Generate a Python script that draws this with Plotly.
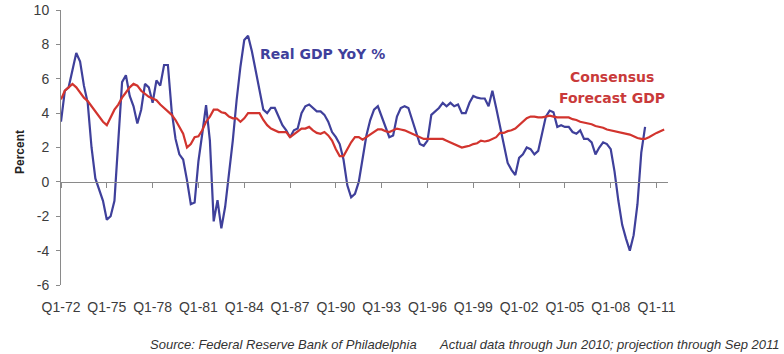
import plotly.graph_objects as go

# ---- data (quarterly, Q1-72 = index 0) ----
real_gdp_yoy = [
    3.5, 5.3, 5.5, 6.6, 7.5, 7.0, 5.6, 4.6, 2.0, 0.2,
    -0.5, -1.1, -2.2, -2.0, -1.1, 2.3, 5.8, 6.2, 5.0, 4.4,
    3.4, 4.2, 5.7, 5.5, 4.6, 5.9, 5.6, 6.8, 6.8, 4.1,
    2.5, 1.6, 1.3, 0.1, -1.3, -1.2, 1.2, 2.8, 4.46, 2.4,
    -2.3, -1.07, -2.7, -1.45, 0.3, 2.4, 4.75, 6.7, 8.25, 8.5,
    7.6, 6.4, 5.2, 4.2, 4.0, 4.3, 4.3, 3.8, 3.3, 3.0,
    2.6, 3.0, 3.1, 4.0, 4.4, 4.5, 4.3, 4.1, 4.1, 3.9,
    3.5, 2.9, 2.6, 2.2, 1.3, -0.2, -0.9, -0.7, 0.0, 1.3,
    2.7, 3.6, 4.2, 4.4, 3.8, 3.3, 2.6, 2.7, 3.8, 4.3,
    4.4, 4.3, 3.6, 2.8, 2.2, 2.1, 2.4, 3.9, 4.1, 4.3,
    4.6, 4.4, 4.6, 4.4, 4.5, 4.0, 4.0, 4.6, 5.0, 4.9,
    4.85, 4.85, 4.4, 5.3, 4.3, 3.2, 2.0, 1.1, 0.7, 0.4,
    1.4, 1.6, 2.0, 1.9, 1.6, 1.8, 2.8, 3.8, 4.15, 4.05,
    3.2, 3.3, 3.2, 3.2, 2.9, 2.8, 3.0, 2.5, 2.5, 2.3,
    1.6, 2.0, 2.3, 2.2, 1.9, 0.6, -1.1, -2.5, -3.3, -4.0,
    -3.1, -1.3, 1.7, 3.2,
]
consensus_forecast = [
    4.8, 5.3, 5.5, 5.7, 5.5, 5.2, 4.9, 4.7, 4.4, 4.1,
    3.8, 3.5, 3.3, 3.8, 4.2, 4.5, 4.9, 5.2, 5.5, 5.7,
    5.6, 5.3, 5.1, 4.95, 4.85, 4.75, 4.5, 4.3, 4.1, 3.9,
    3.6, 3.2, 2.8, 2.0, 2.2, 2.6, 2.65, 3.0, 3.5, 3.8,
    4.2, 4.2, 4.05, 4.0, 3.8, 3.7, 3.7, 3.5, 3.7, 4.0,
    4.0, 4.0, 4.0, 3.6, 3.3, 3.1, 3.0, 2.9, 2.9, 2.9,
    2.6, 2.75, 2.9, 3.1, 3.1, 3.2, 3.0, 2.85, 2.8, 2.9,
    2.7, 2.4, 1.9, 1.5, 1.5, 1.9, 2.3, 2.6, 2.6, 2.45,
    2.6, 2.8, 2.9, 3.05, 3.05, 2.95, 2.9, 3.0, 3.1, 3.05,
    3.0, 2.9, 2.8, 2.7, 2.6, 2.5, 2.5, 2.5, 2.5, 2.5,
    2.5, 2.4, 2.3, 2.2, 2.1, 2.0, 2.05, 2.1, 2.2, 2.25,
    2.4, 2.35, 2.4, 2.5, 2.6, 2.85, 2.85, 2.95, 3.0, 3.1,
    3.3, 3.5, 3.7, 3.8, 3.8, 3.75, 3.75, 3.8, 3.85, 3.8,
    3.75, 3.75, 3.75, 3.75, 3.65, 3.6, 3.5, 3.45, 3.4, 3.35,
    3.25, 3.2, 3.15, 3.05, 3.0, 2.95, 2.9, 2.85, 2.8, 2.75,
    2.65, 2.55, 2.5, 2.5, 2.6, 2.75, 2.85, 2.95, 3.05,
]
tick_labels = ["Q1-72", "Q1-75", "Q1-78", "Q1-81", "Q1-84", "Q1-87", "Q1-90",
               "Q1-93", "Q1-96", "Q1-99", "Q1-02", "Q1-05", "Q1-08", "Q1-11"]
tick_step = 12
y_ticks = [10, 8, 6, 4, 2, 0, -2, -4, -6]
y_tick_text = ["10", "8", "6", "4", "2", "0", "-2", "-4", "-6"]

x_real = list(range(len(real_gdp_yoy)))
x_cons = list(range(len(consensus_forecast)))
tick_vals = [i * tick_step for i in range(len(tick_labels))]
x_range = [0, 159]
y_range = [-6, 10]

W, H = 784, 354
L, R, T, B = 61, 668, 10, 285


def px(x):
    return (x - L) / (R - L)


def py(y):
    return (B - y) / (B - T)


AXIS = "#8a8a8a"
BLUE = "#3f409b"
RED = "#d2342e"
TICKFONT = dict(family="Liberation Sans, Arial", size=14, color="#3c3c3c")


def note(text, x, y, font, xanchor="center", **kw):
    return dict(text=text, x=px(x), y=py(y), xref="paper", yref="paper",
                xanchor=xanchor, yanchor="middle", showarrow=False, font=font, **kw)


fig = go.Figure()
fig.add_trace(go.Scatter(x=x_real, y=real_gdp_yoy, mode="lines",
                         line=dict(color=BLUE, width=2.2), xaxis="x", yaxis="y",
                         name="Real GDP YoY %"))
fig.add_trace(go.Scatter(x=x_cons, y=consensus_forecast, mode="lines",
                         line=dict(color=RED, width=2.2), xaxis="x2", yaxis="y",
                         name="Consensus Forecast GDP"))

zero_pos = (0 - y_range[0]) / (y_range[1] - y_range[0])

label_font = dict(family="DejaVu Sans", size=14)
src_font = dict(family="Liberation Sans, Arial", color="#333333", size=13)

fig.update_layout(
    width=W, height=H,
    margin=dict(l=L, r=W - R, t=T, b=H - B, autoexpand=False),
    paper_bgcolor="white", plot_bgcolor="white",
    showlegend=False,
    xaxis=dict(range=x_range, tickmode="array", tickvals=tick_vals,
               showticklabels=False, ticks="outside", ticklen=5, tickcolor=AXIS,
               tickwidth=1, showline=True, linecolor=AXIS, linewidth=1,
               showgrid=False, zeroline=False, anchor="free", position=zero_pos,
               automargin=False),
    xaxis2=dict(range=x_range, overlaying="x", anchor="y", side="bottom",
                tickmode="array", tickvals=tick_vals, ticktext=tick_labels,
                ticks="", showline=False, showgrid=False, zeroline=False,
                ticklabelstandoff=12, automargin=False, tickfont=TICKFONT),
    yaxis=dict(range=y_range, tickmode="array", tickvals=y_ticks,
               ticktext=y_tick_text,
               ticks="outside", ticklen=4, tickcolor=AXIS, showline=True,
               linecolor=AXIS, linewidth=1, showgrid=False, zeroline=False,
               ticklabelstandoff=4, automargin=False, tickfont=TICKFONT),
    annotations=[
        note("<b>Percent</b>", 20, 152,
             dict(family="Liberation Sans, Arial", size=12, color="#222222"),
             textangle=-90),
        note("<b>Real GDP YoY %</b>", 322, 53.5, dict(label_font, color=BLUE)),
        note("<b>Consensus</b>", 612, 77, dict(label_font, color="#c93a3a")),
        note("<b>Forecast GDP</b>", 612, 98.5, dict(label_font, color="#c93a3a")),
        note("<i>Source: Federal Reserve Bank of Philadelphia</i>", 148, 344,
             src_font, xanchor="left"),
        note("<i>Actual data through Jun 2010; projection through Sep 2011</i>",
             781, 344, src_font, xanchor="right"),
    ],
)

fig.write_html("out.html")
